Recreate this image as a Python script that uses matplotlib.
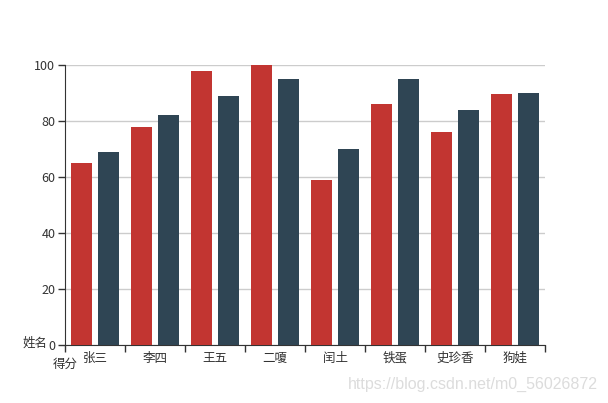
import matplotlib.pyplot as plt
import numpy as np

plt.rcParams['font.family'] = ['Noto Sans CJK SC', 'DejaVu Sans']

# 数据
names = ['张三', '李四', '王五', '二嗄', '闰土', '铁蛋', '史珍香', '狗娃']
score_a = [65, 78, 98, 100, 59, 86, 76, 89.5]
score_b = [69, 82, 89, 95, 70, 95, 84, 90]
y_ticks = [0, 20, 40, 60, 80, 100]

red = '#c23531'
dark = '#2f4554'

fig = plt.figure(figsize=(6.08, 4.03), dpi=100)
ax = fig.add_axes([65 / 608, 58 / 403, 480 / 608, 280 / 403])

x = np.arange(len(names))
ax.bar(x + 0.275, score_a, width=0.35, color=red, zorder=3)
ax.bar(x + 0.725, score_b, width=0.35, color=dark, zorder=3)

ax.set_xlim(0, len(names))
ax.set_ylim(0, 100)

# y axis
ax.set_yticks(y_ticks)
ax.yaxis.grid(True, color='#cccccc', linewidth=1)
ax.set_axisbelow(True)
ax.tick_params(axis='y', length=5, width=1, color='#333333', labelcolor='#333333',
               labelsize=9, pad=2)

# x axis: ticks at boundaries, labels at centers
ax.set_xticks(np.arange(len(names) + 1))
ax.set_xticklabels([])
ax.set_xticks(x + 0.5, minor=True)
ax.set_xticklabels(names, minor=True)
ax.tick_params(axis='x', which='major', length=5, width=1, color='#333333')
ax.tick_params(axis='x', which='minor', length=0, labelsize=9, labelcolor='#333333', pad=5)

for side in ['top', 'right']:
    ax.spines[side].set_visible(False)
ax.spines['left'].set_color('#333333')
ax.spines['bottom'].set_color('#333333')

# axis names
fig.text(23 / 608, 1 - 343 / 403, '姓名', fontsize=9, color='#333333', va='center', ha='left')
fig.text(53 / 608, 1 - 364 / 403, '得分', fontsize=9, color='#333333', va='center', ha='left')

# watermark
fig.text(598 / 608, 1 - 384 / 403, 'https://blog.csdn.net/m0_56026872', fontsize=11.5,
         color='#dcdcdc', va='center', ha='right', family='Liberation Sans')

fig.savefig('out.png', dpi=100)
